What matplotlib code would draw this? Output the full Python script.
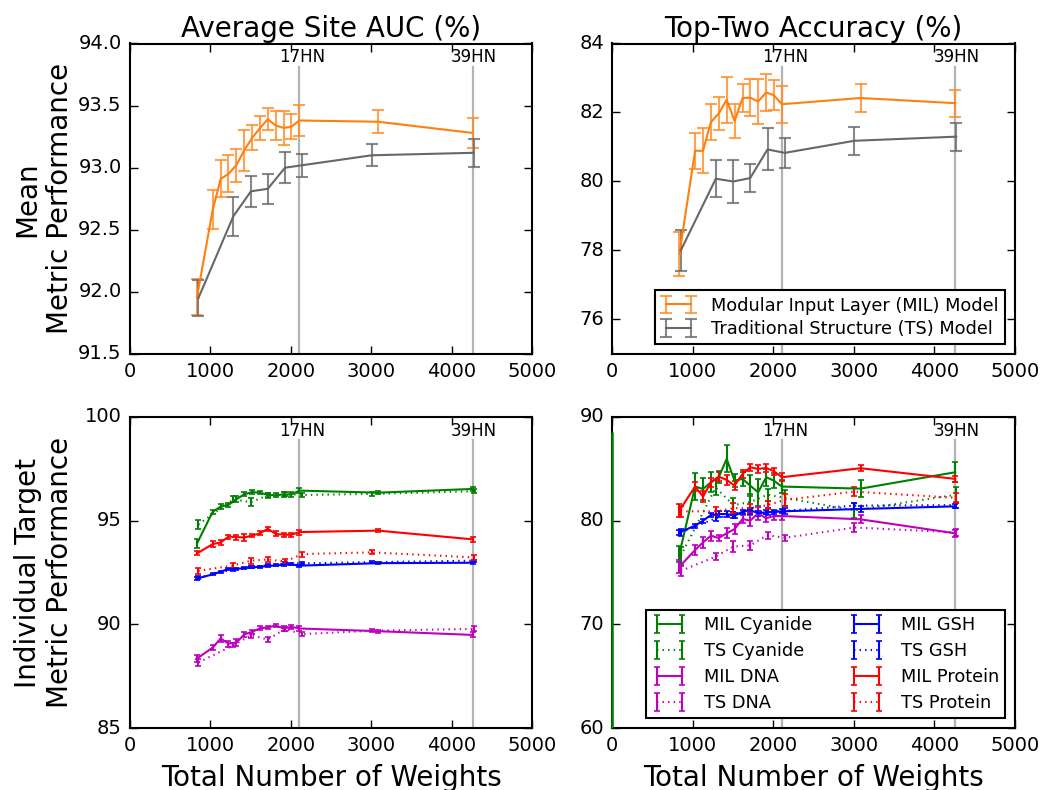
import matplotlib
matplotlib.use("Agg")
import matplotlib.pyplot as plt

plt.style.use("classic")
plt.rcParams["font.family"] = ["DejaVu Sans"]

# ---------------- data ----------------
mil_x = [833, 1028, 1127, 1224, 1321, 1420, 1518, 1617, 1712, 1811, 1911, 2006, 2105, 3082, 4257]
ts_x = [850, 1285, 1503, 1712, 1927, 2142, 3005, 4271]

marker_lines_x = [2105, 4257]
marker_text_x = [2142, 4271]
marker_labels = ["17HN", "39HN"]

# Top-left: average site AUC
mil_auc = [91.96, 92.66, 92.91, 92.95, 93.02, 93.14, 93.24, 93.32, 93.39, 93.34, 93.32, 93.33, 93.38, 93.37, 93.28]
mil_auc_err = [0.145, 0.157, 0.149, 0.149, 0.133, 0.167, 0.10, 0.094, 0.088, 0.113, 0.134, 0.10, 0.126, 0.094, 0.12]
ts_auc = [91.95, 92.61, 92.81, 92.83, 93.00, 93.02, 93.10, 93.12]
ts_auc_err = [0.142, 0.158, 0.125, 0.12, 0.127, 0.094, 0.088, 0.115]

# Top-right: top-two accuracy
mil_top2 = [77.9, 80.89, 80.89, 81.72, 81.97, 82.37, 81.75, 82.42, 82.43, 82.32, 82.58, 82.5, 82.24, 82.42, 82.27]
mil_top2_err = [0.63, 0.52, 0.65, 0.52, 0.47, 0.66, 0.50, 0.42, 0.53, 0.64, 0.55, 0.43, 0.53, 0.42, 0.39]
ts_top2 = [78.0, 80.08, 80.0, 80.1, 80.93, 80.83, 81.18, 81.3]
ts_top2_err = [0.6, 0.53, 0.61, 0.41, 0.61, 0.44, 0.41, 0.41]

# Bottom-left: individual target AUC
mil_cyan_auc = [93.9, 95.43, 95.68, 95.76, 96.03, 96.27, 96.38, 96.35, 96.24, 96.22, 96.27, 96.26, 96.45, 96.35, 96.53]
mil_cyan_auc_err = [0.2, 0.1, 0.1, 0.1, 0.15, 0.1, 0.08, 0.08, 0.1, 0.1, 0.12, 0.1, 0.12, 0.08, 0.1]
ts_cyan_auc = [94.82, 96.03, 95.89, 96.22, 96.29, 96.24, 96.29, 96.42]
ts_cyan_auc_err = [0.2, 0.15, 0.2, 0.12, 0.1, 0.1, 0.1, 0.1]
mil_dna_auc = [88.35, 88.88, 89.32, 89.07, 89.12, 89.51, 89.64, 89.81, 89.85, 89.94, 89.80, 89.88, 89.80, 89.67, 89.49]
mil_dna_auc_err = [0.15, 0.12, 0.15, 0.15, 0.15, 0.12, 0.1, 0.1, 0.08, 0.08, 0.12, 0.1, 0.1, 0.08, 0.12]
ts_dna_auc = [88.16, 88.99, 89.48, 89.27, 89.77, 89.53, 89.69, 89.78]
ts_dna_auc_err = [0.15, 0.1, 0.12, 0.12, 0.1, 0.1, 0.08, 0.12]
mil_gsh_auc = [92.21, 92.41, 92.54, 92.67, 92.68, 92.70, 92.75, 92.78, 92.81, 92.84, 92.87, 92.89, 92.83, 92.95, 92.97]
mil_gsh_auc_err = [0.06, 0.05, 0.05, 0.05, 0.05, 0.05, 0.05, 0.05, 0.05, 0.05, 0.05, 0.05, 0.05, 0.05, 0.05]
ts_gsh_auc = [92.25, 92.65, 92.78, 92.84, 92.94, 92.94, 93.0, 93.07]
ts_gsh_auc_err = [0.06, 0.06, 0.05, 0.05, 0.05, 0.05, 0.05, 0.05]
mil_prot_auc = [93.42, 93.87, 93.95, 94.23, 94.21, 94.19, 94.28, 94.39, 94.61, 94.36, 94.32, 94.32, 94.45, 94.52, 94.10]
mil_prot_auc_err = [0.1, 0.15, 0.12, 0.1, 0.12, 0.15, 0.08, 0.1, 0.1, 0.12, 0.1, 0.1, 0.12, 0.08, 0.12]
ts_prot_auc = [92.58, 92.84, 93.07, 93.13, 93.03, 93.39, 93.47, 93.23]
ts_prot_auc_err = [0.15, 0.1, 0.15, 0.12, 0.1, 0.12, 0.1, 0.12]

# Bottom-right: individual target top-two accuracy
mil_cyan_top2 = [76.8, 83.29, 83.06, 83.70, 84.19, 85.96, 83.86, 84.03, 83.38, 82.74, 84.19, 83.86, 83.29, 83.09, 84.67]
mil_cyan_top2_err = [0.8, 1.3, 1.05, 0.95, 0.6, 1.3, 0.65, 0.7, 1.0, 1.3, 0.8, 0.7, 0.65, 0.85, 0.95]
ts_cyan_top2 = [76.6, 83.2, 81.5, 81.8, 82.5, 82.2, 81.0, 82.5]
ts_cyan_top2_err = [0.9, 0.7, 0.7, 0.8, 0.6, 0.8, 0.7, 0.7]
mil_dna_top2 = [75.56, 77.17, 77.91, 78.55, 78.33, 78.78, 79.19, 80.16, 80.0, 80.71, 80.23, 80.45, 80.45, 80.13, 78.78]
mil_dna_top2_err = [0.6, 0.45, 0.5, 0.5, 0.3, 0.5, 0.45, 0.4, 0.5, 0.6, 0.4, 0.4, 0.4, 0.4, 0.35]
ts_dna_top2 = [75.15, 76.54, 77.5, 77.62, 78.6, 78.35, 79.34, 78.87]
ts_dna_top2_err = [0.5, 0.35, 0.5, 0.45, 0.35, 0.3, 0.4, 0.35]
mil_gsh_top2 = [78.87, 79.52, 80.0, 80.55, 80.64, 80.64, 80.48, 80.87, 81.03, 80.71, 80.81, 80.84, 80.9, 81.13, 81.38]
mil_gsh_top2_err = [0.25, 0.2, 0.2, 0.2, 0.25, 0.3, 0.25, 0.2, 0.2, 0.25, 0.2, 0.2, 0.2, 0.3, 0.2]
ts_gsh_top2 = [78.85, 80.24, 80.56, 80.88, 80.88, 80.95, 81.45, 81.5]
ts_gsh_top2_err = [0.3, 0.3, 0.3, 0.25, 0.3, 0.3, 0.3, 0.25]
mil_prot_top2 = [80.97, 83.29, 82.32, 83.70, 84.25, 83.93, 83.38, 84.51, 85.15, 84.99, 85.09, 84.77, 84.19, 85.06, 84.03]
mil_prot_top2_err = [0.6, 0.45, 0.5, 0.45, 0.4, 0.5, 0.4, 0.4, 0.35, 0.4, 0.4, 0.35, 0.4, 0.3, 0.3]
ts_prot_top2 = [80.9, 80.9, 81.2, 81.2, 81.5, 82.0, 82.8, 82.2]
ts_prot_top2_err = [0.5, 0.4, 0.5, 0.4, 0.4, 0.6, 0.4, 0.5]

# stray green bar along the left edge of the bottom-right panel
cyan_edge_x = 0
cyan_edge_low = 60.0
cyan_edge_high = 88.6

# ---------------- figure ----------------
W, H = 1042, 790
fig = plt.figure(figsize=(W / 100, H / 100), dpi=100, facecolor="white")

def px_axes(l, t, r, b):
    return fig.add_axes([l / W, 1 - b / H, (r - l) / W, (b - t) / H])

ax_tl = px_axes(130, 43.5, 532.3, 354)
ax_tr = px_axes(612.3, 43.5, 1015, 354)
ax_bl = px_axes(130, 417, 532.3, 728)
ax_br = px_axes(612.3, 417, 1015, 728)

ORANGE = "#ff7f0e"
ORANGE_E = (1.0, 0.55, 0.15, 0.8)
GREY = "#676767"
GREY_E = (0.42, 0.42, 0.42, 0.8)

TICK_FS = 14
LEG_FS = 12.8
TITLE_FS = 20
LABEL_FS = 20

def style_axes(ax, ylim, yticks, yfmt):
    ax.set_xlim(0, 5000)
    ax.set_xticks([0, 1000, 2000, 3000, 4000, 5000])
    ax.set_ylim(*ylim)
    ax.set_yticks(yticks)
    ax.set_yticklabels([yfmt.format(v) for v in yticks])
    ax.tick_params(labelsize=TICK_FS, direction="in", length=6, width=1,
                   top=True, right=True, pad=6)
    for sp in ax.spines.values():
        sp.set_linewidth(1.5)

def markers(ax):
    for lx, tx, lab in zip(marker_lines_x, marker_text_x, marker_labels):
        ax.axvline(lx, ymin=0, ymax=0.925, color="0.7", lw=1.6, zorder=1)
        ax.text(tx, 0.927, lab, transform=ax.get_xaxis_transform(),
                ha="center", va="bottom", fontsize=12)

# ---- top-left
markers(ax_tl)
ax_tl.errorbar(mil_x, mil_auc, yerr=mil_auc_err, color=ORANGE, ecolor=ORANGE_E,
               lw=1.5, elinewidth=1.5, capsize=4.5, capthick=1.5,
               label="Modular Input Layer (MIL) Model", zorder=3)
ax_tl.errorbar(ts_x, ts_auc, yerr=ts_auc_err, color=GREY, ecolor=GREY_E,
               lw=1.5, elinewidth=1.5, capsize=4.5, capthick=1.5,
               label="Traditional Structure (TS) Model", zorder=3)
style_axes(ax_tl, (91.5, 94.0), [91.5, 92.0, 92.5, 93.0, 93.5, 94.0], "{:.1f}")
ax_tl.set_title("Average Site AUC (%)", fontsize=TITLE_FS, pad=5)
ax_tl.set_ylabel("Mean\nMetric Performance", fontsize=LABEL_FS)
ax_tl.yaxis.set_label_coords(-0.139, 0.5)

# ---- top-right
markers(ax_tr)
ax_tr.errorbar(mil_x, mil_top2, yerr=mil_top2_err, color=ORANGE, ecolor=ORANGE_E,
               lw=1.5, elinewidth=1.5, capsize=4.5, capthick=1.5,
               label="Modular Input Layer (MIL) Model", zorder=3)
ax_tr.errorbar(ts_x, ts_top2, yerr=ts_top2_err, color=GREY, ecolor=GREY_E,
               lw=1.5, elinewidth=1.5, capsize=4.5, capthick=1.5,
               label="Traditional Structure (TS) Model", zorder=3)
style_axes(ax_tr, (75, 84), [76, 78, 80, 82, 84], "{:d}")
ax_tr.set_title("Top-Two Accuracy (%)", fontsize=TITLE_FS, pad=5)
leg = ax_tr.legend(loc="lower right", fontsize=LEG_FS, numpoints=2,
                   fancybox=False, borderaxespad=0.55, handlelength=2.0,
                   handletextpad=0.85, labelspacing=0.3, borderpad=0.35)
leg.get_frame().set_linewidth(1.5)
leg.set_zorder(10)

# ---- bottom panels
series_colors = {"Cyanide": "g", "DNA": "m", "GSH": "b", "Protein": "r"}
auc_series = [
    ("Cyanide", mil_cyan_auc, mil_cyan_auc_err, ts_cyan_auc, ts_cyan_auc_err),
    ("DNA", mil_dna_auc, mil_dna_auc_err, ts_dna_auc, ts_dna_auc_err),
    ("GSH", mil_gsh_auc, mil_gsh_auc_err, ts_gsh_auc, ts_gsh_auc_err),
    ("Protein", mil_prot_auc, mil_prot_auc_err, ts_prot_auc, ts_prot_auc_err),
]
top2_series = [
    ("Cyanide", mil_cyan_top2, mil_cyan_top2_err, ts_cyan_top2, ts_cyan_top2_err),
    ("DNA", mil_dna_top2, mil_dna_top2_err, ts_dna_top2, ts_dna_top2_err),
    ("GSH", mil_gsh_top2, mil_gsh_top2_err, ts_gsh_top2, ts_gsh_top2_err),
    ("Protein", mil_prot_top2, mil_prot_top2_err, ts_prot_top2, ts_prot_top2_err),
]

def draw_targets(ax, series):
    for name, my, me, ty, te in series:
        c = series_colors[name]
        ax.errorbar(mil_x, my, yerr=me, color=c, ls="-", lw=1.5, elinewidth=1.5,
                    capsize=2, capthick=1.2, label="MIL " + name, zorder=3)
        ax.errorbar(ts_x, ty, yerr=te, color=c, ls=":", lw=1.5, elinewidth=1.5,
                    capsize=2, capthick=1.2, label="TS " + name, zorder=3)

markers(ax_bl)
draw_targets(ax_bl, auc_series)
style_axes(ax_bl, (85, 100), [85, 90, 95, 100], "{:d}")
ax_bl.set_ylabel("Individual Target\nMetric Performance", fontsize=LABEL_FS)
ax_bl.yaxis.set_label_coords(-0.139, 0.5)
ax_bl.set_xlabel("Total Number of Weights", fontsize=LABEL_FS, labelpad=6)

markers(ax_br)
draw_targets(ax_br, top2_series)
ax_br.vlines([cyan_edge_x], [cyan_edge_low], [cyan_edge_high], color="g", lw=1.8,
             zorder=4, clip_on=False)
style_axes(ax_br, (60, 90), [60, 70, 80, 90], "{:d}")
ax_br.set_xlabel("Total Number of Weights", fontsize=LABEL_FS, labelpad=6)
leg2 = ax_br.legend(loc="lower right", fontsize=LEG_FS, ncol=2, numpoints=2,
                    fancybox=False, borderaxespad=0.55, handlelength=2.0,
                    handletextpad=0.95, labelspacing=0.45, borderpad=0.35,
                    columnspacing=2.0)
leg2.get_frame().set_linewidth(1.5)
leg2.set_zorder(10)

fig.savefig("out.png", dpi=100, facecolor="white")
